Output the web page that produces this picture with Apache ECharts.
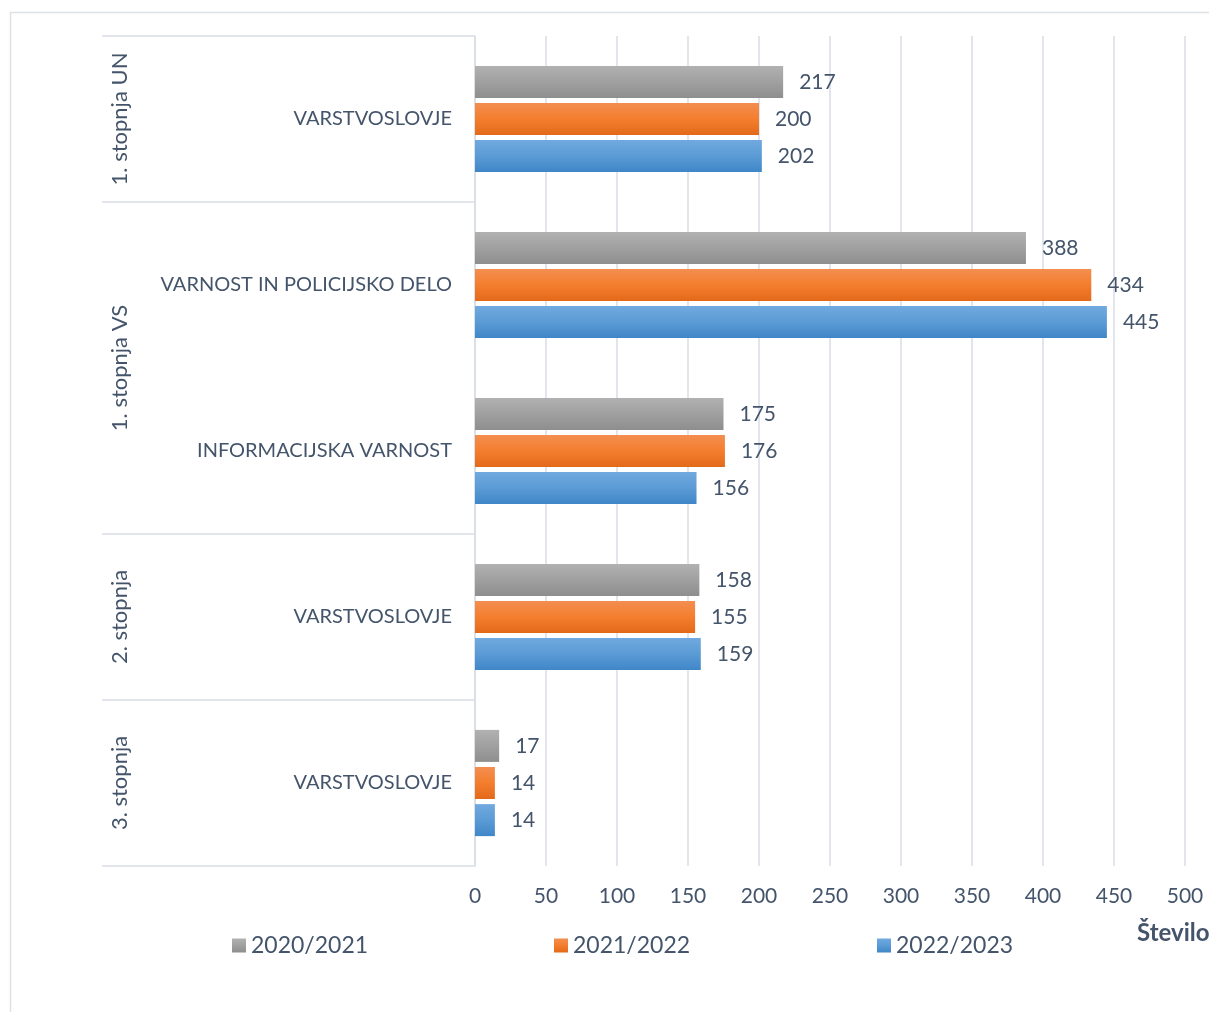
<!DOCTYPE html>
<html>
<head>
<meta charset="utf-8">
<script src="https://cdn.jsdelivr.net/npm/echarts@6/dist/echarts.min.js"></script>
<style>
html,body{margin:0;padding:0;background:#fff;}
#c{width:1209px;height:1012px;}
</style>
</head>
<body>
<div id="c"></div>
<script>
const groups = ['1. stopnja UN', '1. stopnja VS', '1. stopnja VS', '2. stopnja', '3. stopnja'];
const programs = ['VARSTVOSLOVJE', 'VARNOST IN POLICIJSKO DELO', 'INFORMACIJSKA VARNOST', 'VARSTVOSLOVJE', 'VARSTVOSLOVJE'];
const seriesNames = ['2020/2021', '2021/2022', '2022/2023'];
const v2020 = [217, 388, 175, 158, 17];
const v2021 = [200, 434, 176, 155, 14];
const v2022 = [202, 445, 156, 159, 14];
const axisTitle = 'Število';

const FONT = 'Lato';
const TXT = '#44546a';
const GRID = '#d9dee6';

function grad(a, b, c) {
  return new echarts.graphic.LinearGradient(0, 0, 0, 1, [
    {offset: 0, color: a}, {offset: 0.5, color: b}, {offset: 1, color: c}
  ]);
}
const fills = [
  grad('#b1b1b1', '#a0a0a0', '#8e8e8e'),
  grad('#f38e50', '#f47e2e', '#e3691a'),
  grad('#70a9df', '#5b9bd5', '#3f86c8')
];
const values = [v2020, v2021, v2022];

const chart = echarts.init(document.getElementById('c'), null, {renderer: 'canvas'});
const opt = {
  animation: false,
  textStyle: {fontFamily: FONT},
  grid: {left: 475, right: 24, top: 36, bottom: 146, containLabel: false},
  xAxis: {
    type: 'value', min: 0, max: 500, interval: 50,
    axisLine: {show: false}, axisTick: {show: false},
    splitLine: {lineStyle: {color: GRID, width: 1.5}},
    axisLabel: {color: TXT, fontSize: 21, fontFamily: FONT, margin: 20}
  },
  yAxis: {
    type: 'category', inverse: true, data: programs,
    axisLine: {show: true, lineStyle: {color: GRID, width: 1.5}},
    axisTick: {show: false},
    axisLabel: {color: TXT, fontSize: 20, fontFamily: FONT, margin: 23}
  },
  legend: seriesNames.map((n, i) => ({
    data: [n], left: [232, 554, 877][i], top: 934, padding: 0,
    itemWidth: 14, itemHeight: 14, itemGap: 8,
    icon: 'rect',
    textStyle: {color: TXT, fontSize: 23, fontFamily: FONT}
  })),
  series: seriesNames.map((n, i) => ({
    name: n, type: 'bar', data: values[i],
    barWidth: 32, barGap: '16%',
    itemStyle: {color: fills[i]},
    label: {show: true, position: 'right', distance: 16, color: TXT, fontSize: 21, fontFamily: FONT}
  }))
};
chart.setOption(opt);

// multi-level category decorations, positioned through the axes
const c0 = chart.convertToPixel({yAxisIndex: 0}, 0);
const c1 = chart.convertToPixel({yAxisIndex: 0}, 1);
const band = c1 - c0;
const x0 = chart.convertToPixel({xAxisIndex: 0}, 0);
const g = [];
g.push({type: 'rect', shape: {x: 10.5, y: 12.5, width: 1400, height: 1200}, style: {fill: 'none', stroke: '#dde1e6', lineWidth: 1.5}, silent: true});
const bounds = [];
for (let i = 0; i <= groups.length; i++) {
  if (i === 0 || i === groups.length || groups[i] !== groups[i - 1]) bounds.push(i);
}
bounds.forEach(i => {
  const y = c0 + (i - 0.5) * band;
  g.push({type: 'line', shape: {x1: 102, y1: y, x2: x0, y2: y}, style: {stroke: GRID, lineWidth: 1.5}, silent: true});
});
for (let k = 0; k < bounds.length - 1; k++) {
  const a = bounds[k], b = bounds[k + 1];
  const yc = c0 + ((a + b - 1) / 2) * band;
  g.push({type: 'text', x: 120, y: yc, rotation: Math.PI / 2,
    style: {text: groups[a], fill: TXT, font: '22px ' + FONT, textAlign: 'center', textVerticalAlign: 'middle'}});
}
g.push({type: 'text', x: 1137, y: 933,
  style: {text: axisTitle, fill: TXT, font: 'bold 24px ' + FONT, textAlign: 'left', textVerticalAlign: 'middle'}});
chart.setOption({graphic: g});
</script>
</body>
</html>
